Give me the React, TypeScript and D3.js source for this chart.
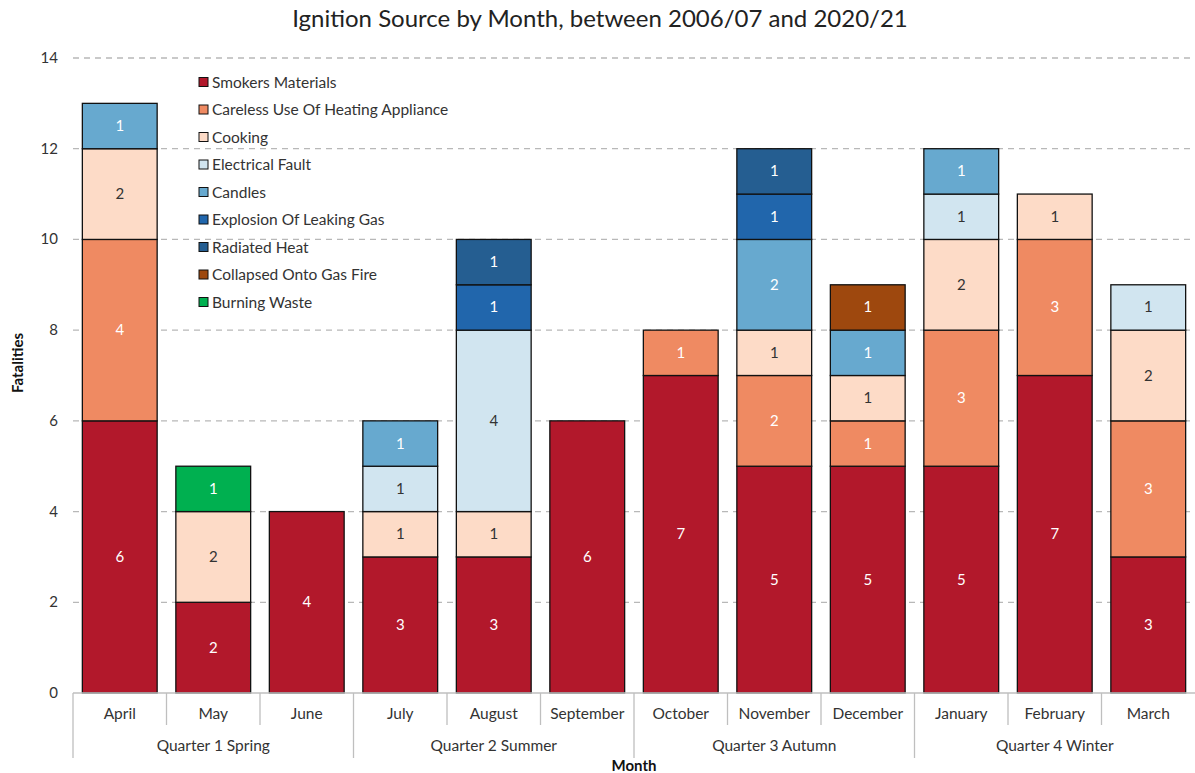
import React from "react";
import * as d3 from "d3";

const months = ["April", "May", "June", "July", "August", "September", "October", "November", "December", "January", "February", "March"];
const quarters = ["Quarter 1 Spring", "Quarter 2 Summer", "Quarter 3 Autumn", "Quarter 4 Winter"];
const sources = [
  "Smokers Materials",
  "Careless Use Of Heating Appliance",
  "Cooking",
  "Electrical Fault",
  "Candles",
  "Explosion Of Leaking Gas",
  "Radiated Heat",
  "Collapsed Onto Gas Fire",
  "Burning Waste",
];
const colors = ["#B2182B", "#EF8A62", "#FDDBC7", "#D1E5F0", "#67A9CF", "#2166AC", "#255E91", "#9E480E", "#00B050"];
const labelColors = ["#ffffff", "#ffffff", "#333333", "#333333", "#ffffff", "#ffffff", "#ffffff", "#ffffff", "#ffffff"];

// fatalities per month, one array per ignition source
const smokers = [6, 2, 4, 3, 3, 6, 7, 5, 5, 5, 7, 3];
const careless = [4, 0, 0, 0, 0, 0, 1, 2, 1, 3, 3, 3];
const cooking = [2, 2, 0, 1, 1, 0, 0, 1, 1, 2, 1, 2];
const electrical = [0, 0, 0, 1, 4, 0, 0, 0, 0, 1, 0, 1];
const candles = [1, 0, 0, 1, 0, 0, 0, 2, 1, 1, 0, 0];
const explosion = [0, 0, 0, 0, 1, 0, 0, 1, 0, 0, 0, 0];
const radiated = [0, 0, 0, 0, 1, 0, 0, 1, 0, 0, 0, 0];
const collapsed = [0, 0, 0, 0, 0, 0, 0, 0, 1, 0, 0, 0];
const burning = [0, 1, 0, 0, 0, 0, 0, 0, 0, 0, 0, 0];
const seriesValues = [smokers, careless, cooking, electrical, candles, explosion, radiated, collapsed, burning];
const yTicks = [0, 2, 4, 6, 8, 10, 12, 14];

const W = 1195;
const H = 773;
const left = 73;
const right = 1195;
const top = 58;
const bottom = 693;
const font = "Lato, 'Open Sans', sans-serif";

export default function App() {
  const x = d3.scaleBand<string>().domain(months).range([left, right]).paddingInner(0.2).paddingOuter(0.1);
  const xb = d3.scaleBand<string>().domain(months).range([left, right]);
  const y = d3.scaleLinear().domain([0, 14]).range([bottom, top]);

  const table = months.map((m, i) => {
    const row: Record<string, number | string> = { month: m };
    sources.forEach((s, k) => (row[s] = seriesValues[k][i]));
    return row;
  });
  const stacked = d3.stack<Record<string, number | string>>().keys(sources)(table as any);

  const qw = (right - left) / quarters.length;

  return (
    <svg width={W} height={H} style={{ position: "absolute", left: 0, top: 0, background: "#fff" }} fontFamily={font}>
      <text x={600} y={27} textAnchor="middle" fontSize={24} fill="#222">
        Ignition Source by Month, between 2006/07 and 2020/21
      </text>

      {yTicks.map((t) => (
        <g key={t}>
          {t > 0 && (
            <line x1={left} x2={right} y1={y(t)} y2={y(t)} stroke="#b8b8b8" strokeWidth={1.3} strokeDasharray="6,5" />
          )}
          <text x={58} y={y(t) + 5} textAnchor="end" fontSize={15} fill="#333">
            {t}
          </text>
        </g>
      ))}

      {stacked.map((layer, k) =>
        layer.map((d, i) => {
          const v = d[1] - d[0];
          if (v <= 0) return null;
          const bx = x(months[i])!;
          const y0 = y(d[1]);
          const h = y(d[0]) - y(d[1]);
          return (
            <g key={`${k}-${i}`}>
              <rect x={bx} y={y0} width={x.bandwidth()} height={h} fill={colors[k]} stroke="#111" strokeWidth={1.3} />
              <text
                x={bx + x.bandwidth() / 2}
                y={y0 + h / 2 + 5}
                textAnchor="middle"
                fontSize={15}
                fill={labelColors[k]}
              >
                {v}
              </text>
            </g>
          );
        })
      )}

      <line x1={left} x2={right} y1={bottom} y2={bottom} stroke="#bfbfbf" strokeWidth={1.3} />
      {months.map((m, i) => (
        <g key={m}>
          {i % 3 !== 0 && (
            <line x1={xb(m)!} x2={xb(m)!} y1={bottom} y2={bottom + 32} stroke="#bfbfbf" strokeWidth={1.3} />
          )}
          <text x={xb(m)! + xb.bandwidth() / 2} y={719} textAnchor="middle" fontSize={15.5} fill="#333">
            {m}
          </text>
        </g>
      ))}
      {quarters.map((q, i) => (
        <g key={q}>
          <line x1={left + i * qw} x2={left + i * qw} y1={bottom} y2={bottom + 65} stroke="#bfbfbf" strokeWidth={1.3} />
          <text x={left + i * qw + qw / 2} y={751} textAnchor="middle" fontSize={15.5} fill="#333">
            {q}
          </text>
        </g>
      ))}

      <text x={634} y={771} textAnchor="middle" fontSize={15} fontWeight="bold" fill="#111">
        Month
      </text>
      <text transform={`translate(23,363) rotate(-90)`} textAnchor="middle" fontSize={15} fontWeight="bold" fill="#111">
        Fatalities
      </text>

      {sources.map((s, k) => (
        <g key={s} transform={`translate(199,${82 + k * 27.5})`}>
          <rect x={0} y={-4.5} width={9} height={9} fill={colors[k]} stroke="#111" strokeWidth={1} />
          <text x={13} y={5.5} fontSize={15.5} fill="#333">
            {s}
          </text>
        </g>
      ))}
    </svg>
  );
}
